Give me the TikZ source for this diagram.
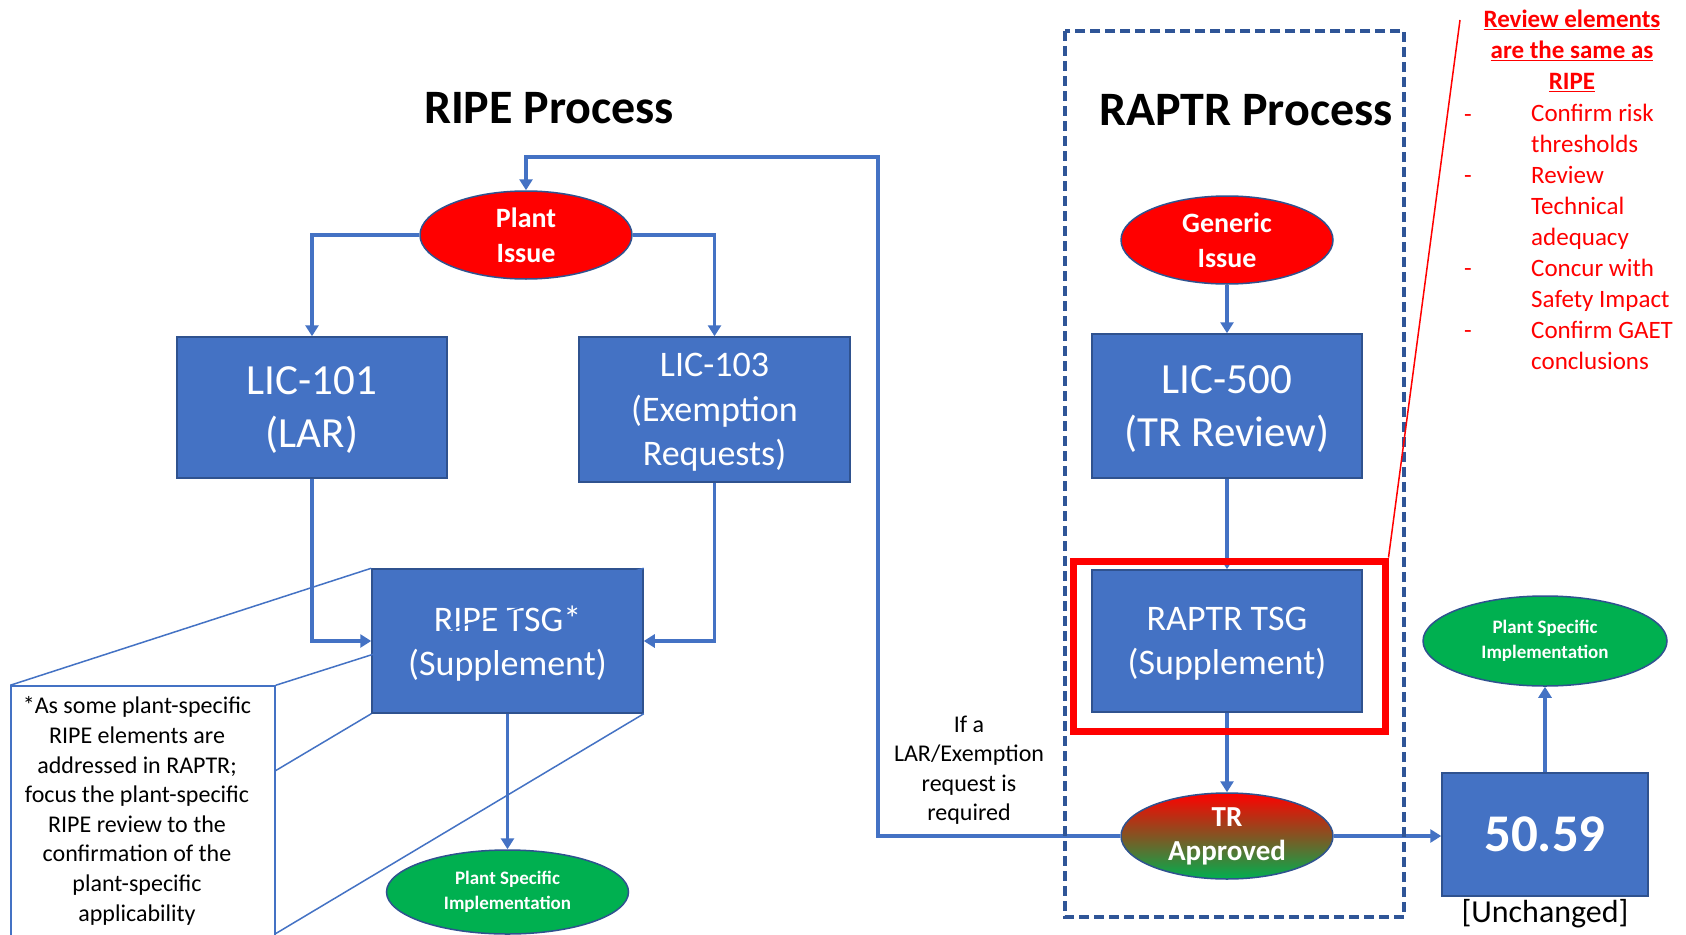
\documentclass[tikz,border=0pt]{standalone}
\usepackage{fontspec}
\setmainfont{Carlito}
\usetikzlibrary{arrows.meta,shapes.geometric}

\definecolor{boxblue}{HTML}{4472C4}
\definecolor{edgeblue}{HTML}{2F528F}
\definecolor{dashblue}{HTML}{2F5597}
\definecolor{okgreen}{HTML}{00B050}
\definecolor{alertred}{HTML}{FF0000}

\tikzset{
  procbox/.style={draw=edgeblue, line width=1.5pt, fill=boxblue, text=white,
    align=center, inner sep=0pt, text depth=0pt},
  issue/.style={ellipse, draw=edgeblue, line width=1.5pt, fill=alertred, text=white,
    align=center, inner sep=0pt, minimum width=212pt, minimum height=88pt,
    font=\bfseries\fontsize{28}{35}\selectfont},
  implement/.style={ellipse, draw=edgeblue, line width=1.5pt, fill=okgreen, text=white,
    align=center, inner sep=0pt, font=\bfseries\fontsize{19}{25}\selectfont},
  conn/.style={draw=boxblue, line width=3.5pt,
    -{Triangle[width=13pt,length=11pt]}},
  zoomline/.style={draw=boxblue, line width=1.5pt},
  redtext/.style={text=alertred, inner sep=0pt, font=\fontsize{25}{31}\selectfont},
}

\begin{document}
\begin{tikzpicture}[x=1pt,y=-1pt]
\clip (0,0) rectangle (1686,934);
\fill[white] (0,0) rectangle (1686,934);

% titles
\node[font=\bfseries\fontsize{48}{58}\selectfont] (ripetitle) at (549,108) {RIPE Process};
\node[font=\bfseries\fontsize{48}{58}\selectfont] (raptrtitle) at (1246,110) {RAPTR Process};

% RIPE column
\node[issue] (plantissue) at (526,235) {Plant\\Issue};
\node[procbox, minimum width=270pt, minimum height=141pt,
      font=\fontsize{43}{53}\selectfont] (lic101) at (312,407.5) {LIC-101\\(LAR)};
\node[procbox, minimum width=271pt, minimum height=145pt,
      font=\fontsize{36}{44.6}\selectfont] (lic103) at (714.5,409.5) {LIC-103\\(Exemption\\Requests)};
\node[procbox, minimum width=271pt, minimum height=144pt,
      font=\fontsize{36}{44}\selectfont] (ripetsg) at (507.5,641) {RIPE TSG*\\(Supplement)};
\node[implement, minimum width=242pt, minimum height=84pt] (psi1) at (507.5,892)
      {Plant Specific\\Implementation};

% footnote box and its projection lines
\node[draw=boxblue, line width=1.5pt, minimum width=264pt, minimum height=250pt,
      inner sep=0pt] (note) at (143,811) {};
\node[align=center, inner sep=0pt, font=\fontsize{24}{29.6}\selectfont] (notetext) at (137,811)
      {*As some plant-specific\\RIPE elements are\\addressed in RAPTR;\\focus the plant-specific\\RIPE review to the\\confirmation of the\\plant-specific\\applicability};
\coordinate (noteA) at (275,771);
\coordinate (noteB) at (275,934);
\draw[zoomline] (note.north west) -- (ripetsg.north west);
\draw[zoomline] (note.north east) -- (ripetsg.north east);
\draw[zoomline] (noteA) -- (ripetsg.south west);
\draw[zoomline] (noteB) -- (ripetsg.south east);

% RIPE connectors
\draw[conn] (plantissue.west) -| (lic101.north);
\draw[conn] (plantissue.east) -| (lic103.north);
\draw[conn] (lic101.south) |- (ripetsg.west);
\draw[conn] (lic103.south) |- (ripetsg.east);
\draw[conn] (ripetsg.south) -- (psi1.north);

% RAPTR column
\node[issue] (genissue) at (1227,240) {Generic\\Issue};
\node[procbox, minimum width=270pt, minimum height=144pt,
      font=\fontsize{43}{53}\selectfont] (lic500) at (1227,406) {LIC-500\\(TR Review)};
\node[procbox, minimum width=270pt, minimum height=142pt,
      font=\fontsize{36}{44}\selectfont] (raptrtsg) at (1227,641) {RAPTR TSG\\(Supplement)};
\node[ellipse, draw=edgeblue, line width=1.5pt, top color=alertred, bottom color=okgreen,
      middle color={rgb,255:red,130;green,85;blue,35}, text=white, align=center,
      inner sep=0pt, minimum width=212pt, minimum height=86pt,
      font=\bfseries\fontsize{29}{34}\selectfont] (trapp) at (1227,836) {TR\\Approved};

% 50.59 and its outcome
\node[procbox, minimum width=206pt, minimum height=123pt,
      font=\bfseries\fontsize{53}{60}\selectfont] (b5059) at (1545,834.5) {50.59};
\node[font=\fontsize{32}{38}\selectfont, inner sep=0pt] (unch) at (1545,914) {[Unchanged]};
\node[implement, minimum width=244pt, minimum height=90pt] (psi2) at (1545,641)
      {Plant Specific\\Implementation};

% RAPTR connectors
\draw[conn] (genissue.south) -- (lic500.north);
\draw[conn] (lic500.south) -- (raptrtsg.north);
\draw[conn] (raptrtsg.south) -- (trapp.north);
\draw[conn] (trapp.east) -- (trapp.east -| b5059.west);
\draw[conn] (b5059.north) -- (psi2.south);

% feedback loop to the plant issue
\coordinate (loopcorner) at (878,157);
\draw[conn] (trapp.west) -| (loopcorner) -| (plantissue.north);
\node[font=\fontsize{24}{29.5}\selectfont, align=center, inner sep=0pt] (ifreq) at (969,770)
      {If a\\LAR/Exemption\\request is\\required};

% RAPTR boundary
\draw[dashblue, line width=3.5pt, dash pattern=on 10pt off 5pt] (1065,31) rectangle (1404,917);

% highlight of the RAPTR TSG
\node[draw=alertred, line width=7pt, minimum width=312pt, minimum height=170pt,
      inner sep=0pt] (hilite) at (1229,646) {};
\coordinate (calloutend) at (1460,20);
\draw[alertred, line width=1.5pt] (hilite.north east) -- (calloutend);

% review elements call-out
\node[redtext, align=center, font=\bfseries\fontsize{25}{31}\selectfont] (revhead) at (1572,51)
      {\underline{Review elements}\\\underline{are the same as}\\\underline{RIPE}};
\node[redtext, align=left, anchor=west] (revitems) at (1531,236.5)
      {Confirm risk\\thresholds\\Review\\Technical\\adequacy\\Concur with\\Safety Impact\\Confirm GAET\\conclusions};
\node[redtext] (dash1) at (1468,119) {-};
\node[redtext] (dash2) at (1468,180) {-};
\node[redtext] (dash3) at (1468,273) {-};
\node[redtext] (dash4) at (1468,335) {-};
\end{tikzpicture}
\end{document}
